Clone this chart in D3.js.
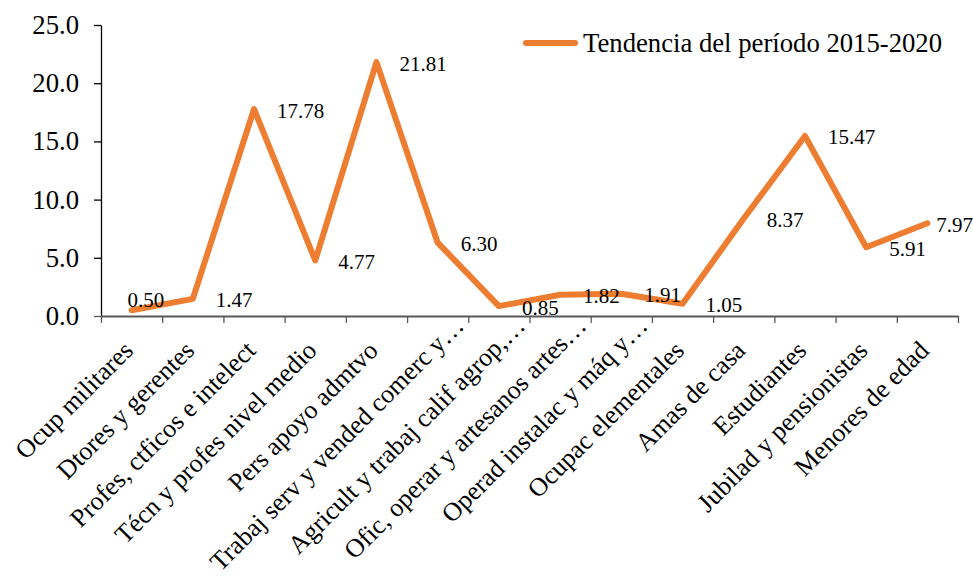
<!DOCTYPE html>
<html>
<head>
<meta charset="utf-8">
<script src="https://cdn.jsdelivr.net/npm/d3@7/dist/d3.min.js"></script>
<style>
  body { margin: 0; background: #fff; }
  svg { display: block; font-family: "Liberation Serif", "Times New Roman", serif; }
</style>
</head>
<body>
<svg id="chart" width="973" height="578"></svg>
<script>
// chart values
var categories = [
    "Ocup militares", "Dtores y gerentes", "Profes, ctficos e intelect",
    "Técn y profes nivel medio", "Pers apoyo admtvo", "Trabaj serv y vended comerc y…",
    "Agricult y trabaj calif agrop,…", "Ofic, operar y artesanos artes…",
    "Operad instalac y máq y…", "Ocupac elementales", "Amas de casa",
    "Estudiantes", "Jubilad y pensionistas", "Menores de edad"
];
var values = [0.50, 1.47, 17.78, 4.77, 21.81, 6.30, 0.85, 1.82, 1.91, 1.05, 8.37, 15.47, 5.91, 7.97];
var yTicks = [0, 5, 10, 15, 20, 25];
var seriesName = "Tendencia del período 2015-2020";

var W = 973, H = 578;
// plot area edges (window.top is taken, so not "top")
var plotLeft = 101, plotRight = 958, plotTop = 25, plotBottom = 316;
var lineColor = "#ED7D31";
var axisGray = "#595959";

var svg = d3.select("#chart");

var y = d3.scaleLinear().domain([0, 25]).range([plotBottom, plotTop]);
var x = d3.scaleBand().domain(categories).range([plotLeft, plotRight]);
// category boundaries, for the tick marks between categories
var xEdge = d3.scaleLinear().domain([0, categories.length]).range([plotLeft, plotRight]);

// y axis
var yAxis = svg.append("g")
    .attr("transform", "translate(" + plotLeft + ",0)")
    .call(d3.axisLeft(y).tickValues(yTicks).tickSize(7).tickSizeOuter(0)
        .tickPadding(15).tickFormat(d3.format(".1f")));
yAxis.select(".domain").attr("stroke", "#000").attr("stroke-width", 1.3);
yAxis.selectAll(".tick line").attr("stroke", function(d) { return d === 0 ? axisGray : "#000"; })
    .attr("stroke-width", 1.3);
yAxis.selectAll(".tick text").attr("font-size", "26.7px").attr("fill", "#000")
    .attr("font-family", "Liberation Serif, serif");

// x axis: ticks between categories
var xAxis = svg.append("g")
    .attr("transform", "translate(0," + plotBottom + ")")
    .call(d3.axisBottom(xEdge).tickValues(d3.range(categories.length + 1))
        .tickSize(7).tickSizeOuter(0).tickFormat(""));
xAxis.select(".domain").attr("stroke", axisGray).attr("stroke-width", 1.8);
xAxis.selectAll(".tick line").attr("stroke", axisGray).attr("stroke-width", 1.3);

// category labels, rotated; the cut ones (…) sit further up the slope
var catAxis = svg.append("g")
    .attr("transform", "translate(0," + plotBottom + ")")
    .call(d3.axisBottom(x).tickSize(0));
catAxis.select(".domain").remove();
catAxis.selectAll(".tick text")
    .attr("font-size", "26px")
    .attr("font-family", "Liberation Serif, serif")
    .attr("fill", "#000")
    .attr("text-anchor", "end")
    .attr("x", 0).attr("y", 0).attr("dy", 0)
    .attr("dx", function(d) { return d.slice(-1) === "…" ? 35 : 0; })
    .attr("transform", "translate(3,36) rotate(-45)");

// the series line
var cx = function(i) { return x(categories[i]) + x.bandwidth() / 2; };
var line = d3.line()
    .x(function(d, i) { return cx(i); })
    .y(function(d) { return y(d); });

svg.append("path")
    .datum(values)
    .attr("d", line)
    .attr("fill", "none")
    .attr("stroke", lineColor)
    .attr("stroke-width", 6)
    .attr("stroke-linecap", "round")
    .attr("stroke-linejoin", "round");

// data labels, to the right of each point
var labelNudge = { 0: [-27, -12] };
var labels = svg.append("g")
    .attr("font-size", "21px")
    .selectAll("text")
    .data(values)
    .enter().append("text")
    .attr("x", function(d, i) { return cx(i) + 23 + (labelNudge[i] ? labelNudge[i][0] : 0); })
    .attr("y", function(d, i) { return y(d) + 8.5 + (labelNudge[i] ? labelNudge[i][1] : 0); })
    .text(function(d) { return d.toFixed(2); });
// keep labels inside the picture
labels.each(function() {
    var bb = this.getBBox();
    if (bb.x + bb.width > W) d3.select(this).attr("x", W - bb.width);
});

// legend
var legend = svg.append("g");
legend.append("line")
    .attr("x1", 526).attr("x2", 575)
    .attr("y1", 43).attr("y2", 43)
    .attr("stroke", lineColor)
    .attr("stroke-width", 6)
    .attr("stroke-linecap", "round");
legend.append("text")
    .attr("x", 583).attr("y", 52)
    .attr("font-size", "26.7px")
    .text(seriesName);
</script>
</body>
</html>
